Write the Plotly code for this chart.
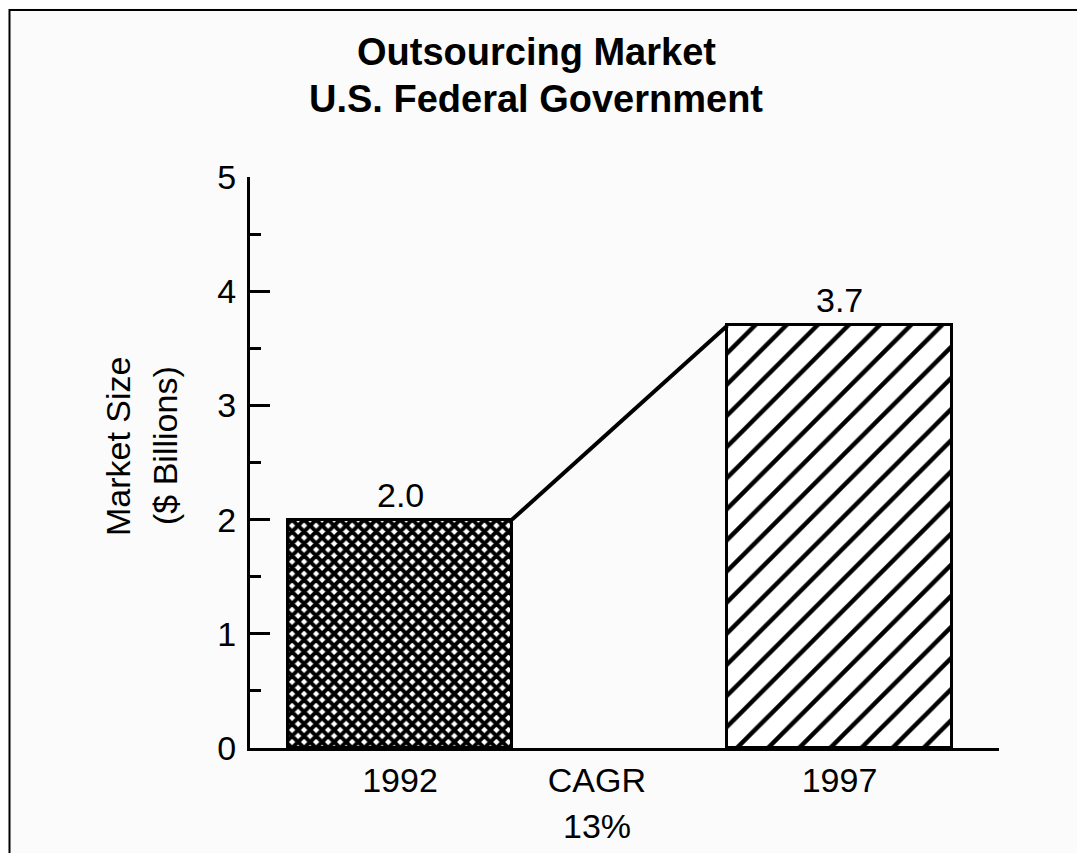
import plotly.graph_objects as go

# data
years = ["1992", "1997"]
market_size = [2.0, 3.7]  # $ billions
value_labels = ["2.0", "3.7"]
cagr_label = "CAGR"
cagr_value = "13%"
title_lines = ["Outsourcing Market", "U.S. Federal Government"]
y_title_lines = ["Market Size", "($ Billions)"]

# page body has an 8px margin, so the figure is drawn 8px smaller and
# every pixel position below is given in screenshot coords minus OFF
OFF = 8
W, H = 1085 - OFF, 853 - OFF
L, R, T, B = 250 - OFF, 999 - OFF, 177 - OFF, 748 - OFF
bar_x = [1, 3]
cagr_x = 1.896
bar_w = 1.02
x_range = [0.3174, 3.7258]

FONT = "Liberation Sans, Arial, sans-serif"


def px_x(p):
    return (p - OFF - L) / (R - L)


def px_y(p):
    return (B - (p - OFF)) / (B - T)


fig = go.Figure()

patterns = [
    dict(shape="x", size=8.5, solidity=0.72, fgcolor="black", bgcolor="white", fgopacity=1),
    dict(shape="/", size=22, solidity=0.2, fgcolor="black", bgcolor="white", fgopacity=1),
]
for x, v, pat in zip(bar_x, market_size, patterns):
    fig.add_trace(go.Bar(
        x=[x], y=[v], width=bar_w,
        marker=dict(color="white", line=dict(color="black", width=3), pattern=pat),
        showlegend=False, hoverinfo="skip",
    ))

# connecting line between bar tops
fig.add_trace(go.Scatter(
    x=[bar_x[0] + bar_w / 2, bar_x[1] - bar_w / 2],
    y=market_size,
    mode="lines", line=dict(color="black", width=4),
    showlegend=False, hoverinfo="skip",
))

annotations = []
for x, v, lab in zip(bar_x, market_size, value_labels):
    annotations.append(dict(x=x, y=v, text=lab, showarrow=False, yanchor="bottom",
                            yshift=4, font=dict(size=34, color="black", family=FONT)))

annotations.append(dict(x=cagr_x, y=px_y(826), yref="paper", text=cagr_value, showarrow=False,
                        xanchor="center", yanchor="middle",
                        font=dict(size=34, color="black", family=FONT)))

for txt, yp in zip(title_lines, [52, 99]):
    annotations.append(dict(x=px_x(536), y=px_y(yp), xref="paper", yref="paper", text=f"<b>{txt}</b>",
                            xanchor="center", yanchor="middle", showarrow=False,
                            font=dict(size=38, color="black", family=FONT)))

for txt, xp in zip(y_title_lines, [118, 165]):
    annotations.append(dict(x=px_x(xp), y=px_y(446), xref="paper", yref="paper", text=txt,
                            textangle=-90, xanchor="center", yanchor="middle", showarrow=False,
                            font=dict(size=34, color="black", family=FONT)))

fig.update_layout(
    width=W, height=H,
    margin=dict(l=L, r=W - R, t=T, b=H - B),
    paper_bgcolor="#fbfbfb", plot_bgcolor="#fbfbfb",
    bargap=0,
    annotations=annotations,
    shapes=[dict(type="rect", xref="paper", yref="paper",
                 x0=px_x(OFF + 1.5), y0=px_y(10), x1=px_x(1085 + 20), y1=px_y(853 + 20),
                 line=dict(color="black", width=2))],
    font=dict(family=FONT, color="black"),
)

fig.update_xaxes(
    range=x_range, showgrid=False, zeroline=False,
    showline=True, linecolor="black", linewidth=3,
    tickvals=[bar_x[0], cagr_x, bar_x[1]], ticktext=[years[0], cagr_label, years[1]],
    ticks="", tickfont=dict(size=34), ticklabelstandoff=0,
)
fig.update_yaxes(
    range=[0, 5], showgrid=False, zeroline=False,
    showline=True, linecolor="black", linewidth=3,
    tickvals=[0, 1, 2, 3, 4, 5], ticks="inside", ticklen=20, tickwidth=3, tickcolor="black",
    tickfont=dict(size=34), ticklabelstandoff=4,
    minor=dict(dtick=0.5, ticks="inside", ticklen=11, tickwidth=3, tickcolor="black"),
)

fig.write_html("out.html")
